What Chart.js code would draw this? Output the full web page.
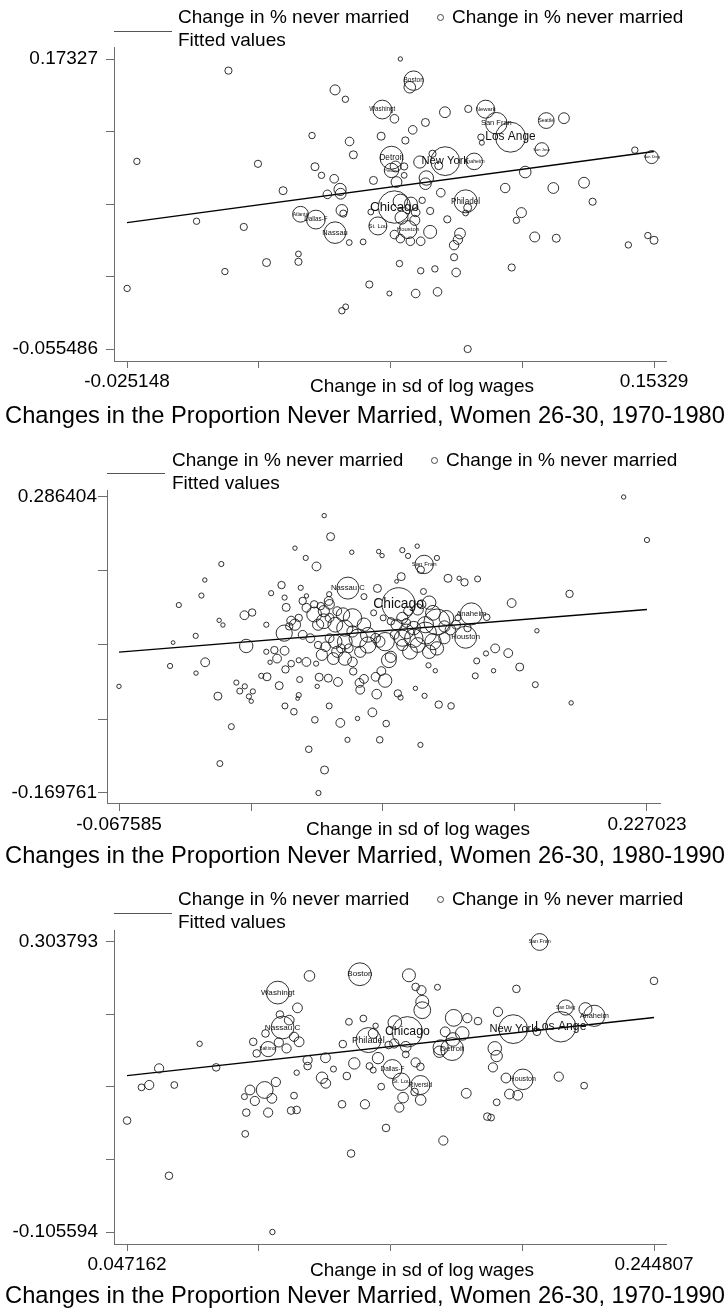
<!DOCTYPE html>
<html>
<head>
<meta charset="utf-8">
<title>Changes in the Proportion Never Married</title>
<script src="https://cdn.jsdelivr.net/npm/chart.js@4.4.1/dist/chart.umd.min.js"></script>
<style>
  html, body { margin: 0; padding: 0; background: #fff; overflow: hidden; }
  body { width: 728px; height: 1312px; position: relative; color: #000;
         font-family: "Liberation Sans", Arial, Helvetica, sans-serif; }
  .panel { position: absolute; left: 0; width: 728px; height: 440px; }
  .panel canvas { position: absolute; left: 0; top: 0; }
  .leg-line { position: absolute; height: 0; border-top: 1px solid #555; }
  .leg-text { position: absolute; font-size: 19px; line-height: 23px; white-space: nowrap; }
  .leg-dot { position: absolute; width: 5px; height: 5px; border: 1px solid #444; border-radius: 50%; }
  .xtitle { position: absolute; font-size: 19px; line-height: 19px; white-space: nowrap; transform: translateX(-50%); }
  .ptitle { position: absolute; font-size: 23.7px; line-height: 26px; white-space: nowrap; transform: translateX(-50%); }
</style>
</head>
<body>
<script>
// ---- 1970-1980 ----
// labelled cities first, then the rest
const names1 = ['Boston', 'Washingt', 'Newark', 'San Fran', 'Seattle', 'Los Ange', 'San Jose', 'Detroit',
    'New York', 'Anaheim', 'San Dieg', 'Pittsbur', 'Chicago', 'Philadel', 'Atlanta', 'Dallas-F', 'St. Lou',
    'Nassau', 'Houston'];
const xs1 = [0.0719, 0.0613, 0.0963, 0.0999, 0.1168, 0.1047, 0.1153, 0.0644, 0.0826, 0.0924,
    0.1525, 0.0644, 0.0654, 0.0895, 0.0336, 0.0388, 0.0598, 0.0453, 0.0700,
    0.0674, 0.0092, 0.0706, 0.0453, 0.0488, 0.0654, 0.0825, 0.0904, 0.0759, 0.0716,
    0.1228, 0.0375, 0.0609, 0.0691, 0.0502, 0.0947, 0.0950, 0.1468, 0.0515, 0.0783,
    -0.0218, 0.0192, 0.0740, 0.0804, 0.0658, 0.0385, 0.0687, 0.1097, 0.0407, 0.0450,
    0.0687, 0.0583, 0.0762, 0.0759, 0.0661, 0.1296, 0.0277, 0.0470, 0.0472, 0.0427,
    0.1029, 0.1192, 0.0811, 0.1325, 0.0674, 0.0902, 0.0748, 0.0710, 0.0476, 0.0481,
    0.0574, 0.0775, 0.0895, 0.0726, 0.1084, 0.0678, 0.0723, 0.0833, 0.1067, -0.0016,
    0.0144, 0.0775, 0.0876, 0.0654, 0.0674, 0.0708, 0.0743, 0.0869, 0.0856, 0.0501,
    0.0548, 0.1129, 0.1202, 0.1446, 0.1512, 0.1533, 0.0329, 0.0329, 0.0221, 0.0080,
    0.0856, 0.0671, 0.0743, 0.0791, 0.0863, 0.1051, -0.0251, 0.0569, 0.0637, 0.0726,
    0.0800, 0.0489, 0.0476, 0.0902];
const ys1 = [0.1562, 0.1334, 0.1337, 0.1226, 0.1247, 0.1116, 0.1019, 0.0954, 0.0927, 0.0925,
    0.0959, 0.0854, 0.0565, 0.0610, 0.0508, 0.0466, 0.0416, 0.0363, 0.0387,
    0.1733, 0.1641, 0.1510, 0.1489, 0.1415, 0.1261, 0.1313, 0.1339, 0.1232, 0.1174,
    0.1266, 0.1129, 0.1124, 0.1090, 0.1082, 0.1116, 0.1072, 0.1014, 0.0977, 0.0985,
    0.0925, 0.0906, 0.0920, 0.0891, 0.0885, 0.0883, 0.0885, 0.0841, 0.0815, 0.0788,
    0.0815, 0.0775, 0.0794, 0.0749, 0.0762, 0.0757, 0.0694, 0.0704, 0.0670, 0.0665,
    0.0715, 0.0715, 0.0678, 0.0607, 0.0610, 0.0560, 0.0618, 0.0592, 0.0539, 0.0513,
    0.0526, 0.0534, 0.0518, 0.0523, 0.0521, 0.0481, 0.0460, 0.0468, 0.0460, 0.0453,
    0.0408, 0.0369, 0.0356, 0.0348, 0.0316, 0.0295, 0.0295, 0.0308, 0.0264, 0.0285,
    0.0290, 0.0329, 0.0319, 0.0266, 0.0340, 0.0303, 0.0195, 0.0133, 0.0127, 0.0056,
    0.0169, 0.0119, 0.0062, 0.0077, 0.0049, 0.0088, -0.0077, -0.0046, -0.0117, -0.0117,
    -0.0104, -0.0222, -0.0253, -0.0555];
const weights1 = [9.7, 9.4, 9, 10.8, 7.9, 15, 6.8, 11.5, 14.4, 8.3,
    6.5, 7.2, 16.2, 11.5, 7.9, 9.4, 9, 10.8, 9,
    2.2, 3.6, 5.8, 5, 3.2, 4.3, 5.4, 3.6, 4, 4.3,
    5.4, 3.2, 4, 3.6, 4.3, 3.2, 2.5, 3.2, 4, 3.6,
    3.2, 3.6, 6.1, 4, 5.4, 4, 3.6, 5.8, 3.2, 4.3,
    2.9, 4, 7.2, 5.8, 5.4, 5.4, 4, 6.1, 5.4, 4.3,
    4.7, 5.4, 4.3, 3.6, 7.2, 4, 3.2, 6.5, 5.8, 3.6,
    2.9, 3.6, 2.9, 4.3, 5, 6.5, 5, 3.6, 3.2, 3.2,
    3.6, 6.5, 5.4, 4.3, 4.3, 4.3, 4.3, 4.7, 4.7, 2.9,
    2.9, 5, 4, 3.2, 3.2, 4, 2.9, 3.6, 4, 3.2,
    3.6, 3.2, 3.2, 3.2, 4.3, 3.6, 3.2, 3.6, 2.5, 4.3,
    4.3, 2.9, 3.2, 3.6];
const fitX1 = [-0.025148, 0.15329];
const fitY1 = [0.0442, 0.1003];
const xTicks1 = [-0.025148, 0.019462, 0.064071, 0.108681, 0.15329];
const xTickLabels1 = ['-0.025148', '', '', '', '0.15329'];
const yTicks1 = [-0.055486, 0.001703, 0.058892, 0.116081, 0.17327];
const yTickLabels1 = ['-0.055486', '', '', '', '0.17327'];

// ---- 1980-1990 ----
const names2 = ['San Fran', 'Nassau C', 'Chicago', 'Anaheim', 'Houston'];
const xs2 = [0.1027, 0.0601, 0.0884, 0.1290, 0.1258,
    0.2140, 0.2270, 0.0469, 0.0505, 0.0306, 0.0623, 0.0773, 0.0792, 0.0905, 0.0937,
    0.0988, 0.1098, 0.0366, 0.0426, 0.1008, -0.0105, -0.0197, -0.0216, -0.0342, 0.0231,
    0.0173, 0.0338, 0.0248, 0.0899, 0.0873, 0.0766, 0.1160, 0.1222, 0.1252, 0.1325,
    0.0691, 0.0497, 0.0370, 0.0349, 0.0257, 0.0494, 0.0450, 0.1023, 0.1012, 0.1515,
    0.1838, 0.1656, 0.1647, 0.1847, 0.0024, 0.0067, -0.0117, -0.0096, 0.0146, -0.0248,
    -0.0374, 0.0034, 0.0146, 0.0191, 0.0248, 0.0285, 0.0246, 0.0327, 0.0370, 0.0424,
    0.0456, -0.0195, -0.0391, -0.0246, 0.0253, 0.0285, 0.0167, 0.0206, 0.1372, 0.1423,
    0.1496, 0.1560, 0.1320, 0.1312, 0.1414, 0.1089, 0.1051, -0.0676, -0.0021, 0.0026,
    -0.0002, 0.0071, 0.0049, 0.0062, -0.0124, 0.0118, 0.0150, 0.0218, 0.0332, 0.0327,
    0.0321, 0.0441, 0.0492, 0.0546, 0.0430, 0.0631, 0.0691, 0.0666, 0.0670, 0.0756,
    0.0809, 0.0788, 0.0762, 0.0880, 0.0895, 0.0978, 0.1029, 0.1108, 0.1177, 0.0497,
    0.0250, 0.0300, 0.0417, 0.0559, 0.0655, 0.0738, 0.0815, 0.0599, 0.0779, 0.1006,
    -0.0049, 0.0383, -0.0113, 0.0471, 0.0437,
    0.0413, 0.0467, 0.0499, 0.0542, 0.0574, 0.0499, 0.0627, 0.0467, 0.0435, 0.0531,
    0.0584, 0.0627, 0.0691, 0.0713, 0.0659, 0.0584, 0.0531, 0.0499, 0.0542, 0.0606,
    0.0670, 0.0713, 0.0756, 0.0777, 0.0809, 0.0392, 0.0349, 0.0306, 0.0274, 0.0327,
    0.0370, 0.0413, 0.0520, 0.0584, 0.0627, 0.0563, 0.0477, 0.0435, 0.0745, 0.0798,
    0.0905, 0.0937, 0.0991, 0.1055, 0.1076, 0.1098, 0.1034, 0.0969, 0.0927, 0.0905,
    0.0969, 0.1034, 0.1076, 0.1098, 0.1055, 0.0991, 0.0948, 0.0905, 0.0862, 0.0873,
    0.0841, 0.0927, 0.1140, 0.1173, 0.1205, 0.1151, 0.1215, 0.1376, 0.1269, 0.1140,
    0.0841, 0.0830];
const ys2 = [0.1825, 0.1460, 0.1210, 0.1063, 0.0703,
    0.2864, 0.2201, 0.2577, 0.2253, 0.2076, 0.2013, 0.2024, 0.1961, 0.2045, 0.1956,
    0.2107, 0.1925, 0.1925, 0.1794, 0.1742, 0.1831, 0.1585, 0.1345, 0.1199, 0.1507,
    0.1382, 0.1465, 0.1314, 0.1637, 0.1564, 0.1455, 0.1611, 0.1611, 0.1549, 0.1601,
    0.1329, 0.1366, 0.1340, 0.1262, 0.1163, 0.1262, 0.1183, 0.1408, 0.1210, 0.1230,
    0.1371, 0.0802, -0.0028, -0.0309, 0.1042, 0.1084, 0.0964, 0.0891, 0.0896, 0.0724,
    0.0620, 0.0568, 0.0479, 0.0505, 0.0495, 0.0959, 0.0766, 0.0348, 0.0322, 0.0296,
    0.0432, 0.0317, 0.0260, 0.0150, 0.0207, 0.0296, 0.0317, 0.0374, 0.0453, 0.0531,
    0.0458, 0.0244, 0.0338, 0.0108, 0.0187, 0.0187, 0.0270, -0.0054, 0.0004, -0.0054,
    -0.0127, -0.0132, -0.0210, -0.0283, -0.0205, 0.0108, 0.0093, -0.0043, 0.0051, -0.0189,
    -0.0241, 0.0087, 0.0072, 0.0014, -0.0054, 0.0176, 0.0061, -0.0001, -0.0106, 0.0093,
    0.0035, 0.0181, -0.0174, -0.0163, -0.0226, -0.0085, -0.0200, -0.0335, -0.0356, -0.0356,
    -0.0356, -0.0445, -0.0570, -0.0617, -0.0549, -0.0455, -0.0628, -0.0878, -0.0878, -0.0956,
    -0.0675, -0.1024, -0.1244, -0.1343, -0.1698,
    0.1053, 0.1105, 0.1210, 0.1105, 0.1053, 0.1001, 0.1001, 0.0949, 0.0896, 0.0896,
    0.0844, 0.0792, 0.0896, 0.0740, 0.0688, 0.0635, 0.0635, 0.0688, 0.0479, 0.0531,
    0.0479, 0.0583, 0.0688, 0.0635, 0.0635, 0.0688, 0.0740, 0.0896, 0.0870, 0.1001,
    0.1157, 0.1210, 0.0374, 0.0374, 0.0322, 0.0531, 0.0557, 0.0583, 0.1079, 0.1001,
    0.1001, 0.1105, 0.1131, 0.1236, 0.1079, 0.0938, 0.0896, 0.0844, 0.0792, 0.0688,
    0.0688, 0.0766, 0.0635, 0.0531, 0.0479, 0.0583, 0.0479, 0.0583, 0.0740, 0.0896,
    0.0949, 0.0923, 0.0870, 0.0818, 0.0896, 0.1001, 0.1001, 0.1011, 0.0844, 0.0688,
    0.0401, 0.0348];
const weights2 = [9.2, 11, 16.6, 11, 11,
    2.2, 2.6, 2.2, 4, 2.2, 2.2, 2.2, 2.2, 2.6, 2.6,
    2.2, 2.6, 2.6, 4.4, 3.7, 2.6, 2.2, 2.6, 2.6, 3.7,
    2.6, 2.6, 2.6, 4, 1.9, 4, 4, 2.2, 3.7, 3,
    3, 2.6, 2.2, 3.7, 4, 4.4, 3.7, 3, 4.4, 4.4,
    3.7, 2.2, 3, 2.2, 4.4, 3.7, 2.2, 2.2, 2.6, 2.6,
    1.9, 6.7, 2.6, 3.7, 4.4, 4.4, 8.1, 2.6, 4.4, 2.6,
    5.6, 4.4, 2.6, 2.2, 3.7, 3.3, 2.2, 4.4, 2.6, 4.4,
    4.4, 4, 3, 3, 2.2, 2.2, 2.6, 2.2, 2.6, 2.6,
    3, 2.6, 2.6, 2.2, 4, 2.6, 4, 4, 3, 2.6,
    1.9, 4, 4, 4.4, 2.2, 3.7, 4.4, 4.4, 4.4, 4.4,
    6.7, 4.4, 4.8, 3.7, 2.6, 2.2, 2.6, 3.7, 3.3, 3,
    3, 3.3, 3.3, 4.4, 2.2, 4.4, 3.3, 2.6, 3.3, 2.6,
    3, 3.3, 3, 4, 2.6,
    7.4, 5.6, 4.8, 4.4, 6.7, 4.4, 9.2, 7.4, 5.6, 7.4,
    8.1, 5.6, 6.7, 7.4, 9.2, 7.4, 6.7, 4.4, 5.6, 4.4,
    5.6, 8.1, 4.8, 5.6, 9.2, 4.4, 4.4, 5.6, 3.7, 3.7,
    4.4, 3.7, 5.9, 6.7, 4.8, 4.4, 4.8, 3.7, 3, 3,
    5.6, 4.4, 5.6, 6.7, 7.4, 13, 8.1, 6.7, 7.4, 8.1,
    9.2, 11, 8.1, 6.7, 6.7, 7.4, 7.4, 5.6, 4.4, 5.6,
    3.7, 4.4, 5.6, 5.2, 4.4, 7.4, 3, 3.3, 3.7, 5.6,
    5.6, 7.4];
const fitX2 = [-0.067585, 0.227023];
const fitY2 = [0.0474, 0.1131];
const xTicks2 = [-0.067585, 0.006067, 0.079719, 0.153371, 0.227023];
const xTickLabels2 = ['-0.067585', '', '', '', '0.227023'];
const yTicks2 = [-0.169761, -0.05572, 0.058322, 0.172363, 0.286404];
const yTickLabels2 = ['-0.169761', '', '', '', '0.286404'];

// ---- 1970-1990 ----
const names3 = ['San Fran', 'Boston', 'Washingt', 'Chicago', 'New York', 'Los Ange', 'Nassau C', 'Philadel',
    'Detroit', 'Houston', 'Dallas-F', 'St. Lou', 'Anaheim', 'San Dieg', 'Baltimor', 'Riversid'];
const xs3 = [0.2019, 0.1345, 0.1037, 0.1523, 0.1920, 0.2098, 0.1055, 0.1377, 0.1691, 0.1956,
    0.1467, 0.1500, 0.2224, 0.2117, 0.1001, 0.1572,
    0.1156, 0.1529, 0.1554, 0.1576, 0.1636, 0.1932, 0.2448, 0.1111, 0.1579, 0.1579,
    0.1045, 0.1080, 0.1304, 0.1358, 0.1404, 0.1476, 0.1697, 0.1748, 0.1788, 0.1863,
    0.2191, 0.2009, 0.1098, 0.1117, 0.1041, 0.0991, 0.0945, 0.0958, 0.1070, 0.0744,
    0.1281, 0.1395, 0.1474, 0.1517, 0.1517, 0.1665, 0.1729, 0.1694, 0.1648, 0.1643,
    0.1851, 0.1858, 0.1844, 0.1149, 0.1216, 0.1149, 0.1246, 0.1324, 0.1413, 0.1381,
    0.1395, 0.1554, 0.1572, 0.1550, 0.1573, 0.1507, 0.1493, 0.1425, 0.1296, 0.1203,
    0.1217, 0.1108, 0.1893, 0.2091, 0.2186, 0.1906, 0.1937, 0.1858, 0.1823, 0.1837,
    0.1744, 0.0592, 0.0806, 0.0526, 0.0555, 0.0649, 0.0472, 0.0629, 0.0933, 0.0951,
    0.0988, 0.1030, 0.1015, 0.0912, 0.0919, 0.1001, 0.1087, 0.1108, 0.1098, 0.0915,
    0.1278, 0.1364, 0.1443, 0.1658, 0.1312, 0.1017, 0.1453];
const ys3 = [0.3038, 0.2583, 0.2324, 0.1770, 0.1808, 0.1841, 0.1831, 0.1653, 0.1526, 0.1099,
    0.1244, 0.1066, 0.1996, 0.2113, 0.1526, 0.1019,
    0.2559, 0.2568, 0.2404, 0.2357, 0.2399, 0.2376, 0.2489, 0.2108, 0.2193, 0.2075,
    0.2014, 0.1935, 0.1911, 0.1958, 0.1855, 0.1902, 0.1967, 0.1963, 0.1921, 0.2052,
    0.2090, 0.1770, 0.1700, 0.1629, 0.1620, 0.1747, 0.1629, 0.1465, 0.1536, 0.1601,
    0.1597, 0.1747, 0.1606, 0.1559, 0.1451, 0.1770, 0.1747, 0.1662, 0.1550, 0.1489,
    0.1536, 0.1428, 0.1268, 0.1371, 0.1404, 0.1287, 0.1244, 0.1324, 0.1399, 0.1287,
    0.1230, 0.1338, 0.1277, 0.0921, 0.0808, 0.0841, 0.0700, 0.0996, 0.1146, 0.1122,
    0.1043, 0.1193, 0.1118, 0.1137, 0.1010, 0.0892, 0.0874, 0.0775, 0.0573, 0.0559,
    0.0902, 0.1254, 0.1268, 0.0986, 0.1019, 0.1019, 0.0517, -0.0262, 0.0949, 0.0794,
    0.0949, 0.1061, 0.0831, 0.0855, 0.0630, 0.0630, 0.0658, 0.0667, 0.0869, 0.0329,
    0.0747, 0.0747, 0.0413, 0.0235, 0.0052, -0.1056, 0.1583];
const weights3 = [8.4, 11.4, 11.4, 15.2, 14.4, 15.2, 11.4, 12.5, 11.4, 10.3,
    9.5, 8.7, 10.6, 7.6, 7.6, 9.5,
    5.3, 6.5, 3.8, 4.6, 3, 3.8, 3.8, 4.9, 6.5, 8.4,
    3.8, 4.9, 3.4, 3.4, 2.7, 6.8, 8.4, 4.6, 3.8, 4.6,
    6.5, 3.8, 4.6, 4.9, 4.6, 3.8, 3.8, 3.8, 4.6, 2.7,
    3.8, 4.9, 4.6, 5.3, 3.4, 4.9, 6.8, 6.8, 7.6, 5.7,
    6.8, 5.7, 4.6, 4.6, 4.9, 3.8, 3, 5.7, 5.7, 3.4,
    3, 4.6, 3.8, 3.8, 5.3, 5.3, 4.6, 3.4, 3.8, 5.7,
    4.9, 2.7, 4.9, 4.6, 3.4, 4.9, 4.9, 3.4, 3.8, 3.4,
    4.9, 4.6, 3.8, 3.4, 4.6, 3.4, 3.8, 3.8, 4.9, 4.6,
    8.4, 4.6, 4.9, 3, 3.8, 4.6, 3.8, 3.8, 3.4, 3.4,
    3.8, 4.6, 3.8, 4.6, 3.8, 2.7, 3.8];
const fitX3 = [0.047162, 0.244807];
const fitY3 = [0.1151, 0.1972];
const xTicks3 = [0.047162, 0.096573, 0.145985, 0.195396, 0.244807];
const xTickLabels3 = ['0.047162', '', '', '', '0.244807'];
const yTicks3 = [-0.105594, -0.003247, 0.0991, 0.201447, 0.303793];
const yTickLabels3 = ['-0.105594', '', '', '', '0.303793'];

const legendFit = ['Change in % never married', 'Fitted values'];
const legendPoints = 'Change in % never married';
const xAxisTitle = 'Change in sd of log wages';
const titles = [
    'Changes in the Proportion Never Married, Women 26-30, 1970-1980',
    'Changes in the Proportion Never Married, Women 26-30, 1980-1990',
    'Changes in the Proportion Never Married, Women 26-30, 1970-1990'
];

const FONT = '"Liberation Sans", Arial, Helvetica, sans-serif';
const AXIS = '#6e6e6e';

Chart.defaults.font.family = FONT;
Chart.defaults.color = '#000';

// city names drawn at the centre of their bubble, bigger bubbles get bigger text
const cityLabels = {
    id: 'cityLabels',
    afterDatasetsDraw(chart, args, opts) {
        const names = opts.names || [];
        const meta = chart.getDatasetMeta(0);
        const ctx = chart.ctx;
        ctx.save();
        ctx.fillStyle = '#111';
        ctx.textAlign = 'center';
        ctx.textBaseline = 'middle';
        names.forEach((name, i) => {
            const el = meta.data[i];
            if (!el || !name) return;
            const r = el.options.radius;
            ctx.font = Math.max(4, r * (0.45 + 0.023 * r)).toFixed(1) + 'px ' + FONT;
            ctx.fillText(name, el.x, el.y);
        });
        ctx.restore();
    }
};

const panels = [
    {top: 0, xs: xs1, ys: ys1, ws: weights1, names: names1, fitX: fitX1, fitY: fitY1,
        xTicks: xTicks1, xTickLabels: xTickLabels1, yTicks: yTicks1, yTickLabels: yTickLabels1,
        xMin: -0.02955, xMax: 0.157353, yMin: -0.06495, yMax: 0.18274,
        g: {top: 47, left: 114, right: 666, bottom: 361, yTick: 8, yPad: 8, xTick: 7, xPad: 2},
        leg: {lineLeft: 114, lineTop: 31, textLeft: 178, textTop: 5, dotX: 440, text2Left: 452},
        xt: {cx: 422, top: 376}, tt: {cx: 365, top: 402}},
    {top: 440, xs: xs2, ys: ys2, ws: weights2, names: names2, fitX: fitX2, fitY: fitY2,
        xTicks: xTicks2, xTickLabels: xTickLabels2, yTicks: yTicks2, yTickLabels: yTickLabels2,
        xMin: -0.074281, xMax: 0.234277, yMin: -0.185172, yMax: 0.297191,
        g: {top: 50, left: 107, right: 660, bottom: 363, yTick: 9, yPad: 1, xTick: 8, xPad: 2},
        leg: {lineLeft: 107, lineTop: 33, textLeft: 172, textTop: 8, dotX: 434, text2Left: 446},
        xt: {cx: 418, top: 379}, tt: {cx: 365, top: 402}},
    {top: 880, xs: xs3, ys: ys3, ws: weights3, names: names3, fitX: fitX3, fitY: fitY3,
        xTicks: xTicks3, xTickLabels: xTickLabels3, yTicks: yTicks3, yTickLabels: yTickLabels3,
        xMin: 0.042286, xMax: 0.249307, yMin: -0.122534, yMax: 0.320733,
        g: {top: 50, left: 114, right: 666, bottom: 364, yTick: 8, yPad: 8, xTick: 7, xPad: 2},
        leg: {lineLeft: 114, lineTop: 33, textLeft: 178, textTop: 7, dotX: 440, text2Left: 452},
        xt: {cx: 422, top: 380}, tt: {cx: 365, top: 402}}
];

function addDiv(parent, cls, css, html) {
    const d = document.createElement('div');
    d.className = cls;
    Object.assign(d.style, css);
    if (html) d.innerHTML = html;
    parent.appendChild(d);
    return d;
}

panels.forEach((p, k) => {
    const wrap = addDiv(document.body, 'panel', {top: p.top + 'px'});
    const cv = document.createElement('canvas');
    cv.width = 728;
    cv.height = 440;
    wrap.appendChild(cv);

    // legend, axis title and panel title as page text
    addDiv(wrap, 'leg-line', {left: p.leg.lineLeft + 'px', top: p.leg.lineTop + 'px', width: '58px'});
    addDiv(wrap, 'leg-text', {left: p.leg.textLeft + 'px', top: p.leg.textTop + 'px'}, legendFit.join('<br>'));
    addDiv(wrap, 'leg-dot', {left: (p.leg.dotX - 3) + 'px', top: (p.leg.textTop + 9) + 'px'});
    addDiv(wrap, 'leg-text', {left: p.leg.text2Left + 'px', top: p.leg.textTop + 'px'}, legendPoints);
    addDiv(wrap, 'xtitle', {left: p.xt.cx + 'px', top: p.xt.top + 'px'}, xAxisTitle);
    addDiv(wrap, 'ptitle', {left: p.tt.cx + 'px', top: p.tt.top + 'px'}, titles[k]);

    const bubbles = p.xs.map((x, i) => ({x: x, y: p.ys[i], r: p.ws[i]}));
    const fit = p.fitX.map((x, i) => ({x: x, y: p.fitY[i]}));
    const tickFont = {family: FONT, size: 19};

    new Chart(cv.getContext('2d'), {
        type: 'bubble',
        data: {
            datasets: [{
                data: bubbles,
                backgroundColor: 'rgba(0,0,0,0)',
                borderColor: '#1a1a1a',
                borderWidth: 0.9,
                hoverRadius: 0
            }, {
                type: 'line',
                data: fit,
                borderColor: '#000',
                borderWidth: 1.4,
                pointRadius: 0,
                fill: false,
                tension: 0
            }]
        },
        options: {
            responsive: false,
            animation: false,
            devicePixelRatio: 1,
            events: [],
            layout: {padding: {top: p.g.top, right: 728 - p.g.right, bottom: 0, left: 0}},
            plugins: {
                legend: {display: false},
                tooltip: {enabled: false},
                title: {display: false},
                cityLabels: {names: p.names}
            },
            scales: {
                x: {
                    type: 'linear',
                    min: p.xMin,
                    max: p.xMax,
                    border: {display: true, color: AXIS, width: 1},
                    grid: {drawOnChartArea: false, drawTicks: true, tickLength: p.g.xTick, color: AXIS},
                    ticks: {
                        autoSkip: false, maxRotation: 0, minRotation: 0, color: '#000',
                        font: tickFont, padding: p.g.xPad,
                        callback: (v, i) => p.xTickLabels[i]
                    },
                    afterBuildTicks: s => { s.ticks = p.xTicks.map(v => ({value: v})); },
                    afterFit: s => { s.height = 440 - p.g.bottom; }
                },
                y: {
                    type: 'linear',
                    min: p.yMin,
                    max: p.yMax,
                    border: {display: true, color: AXIS, width: 1},
                    grid: {drawOnChartArea: false, drawTicks: true, tickLength: p.g.yTick, color: AXIS},
                    ticks: {
                        autoSkip: false, color: '#000', font: tickFont, padding: p.g.yPad,
                        callback: (v, i) => p.yTickLabels[i]
                    },
                    afterBuildTicks: s => { s.ticks = p.yTicks.map(v => ({value: v})); },
                    afterFit: s => { s.width = p.g.left; }
                }
            }
        },
        plugins: [cityLabels]
    });
});
</script>
</body>
</html>
